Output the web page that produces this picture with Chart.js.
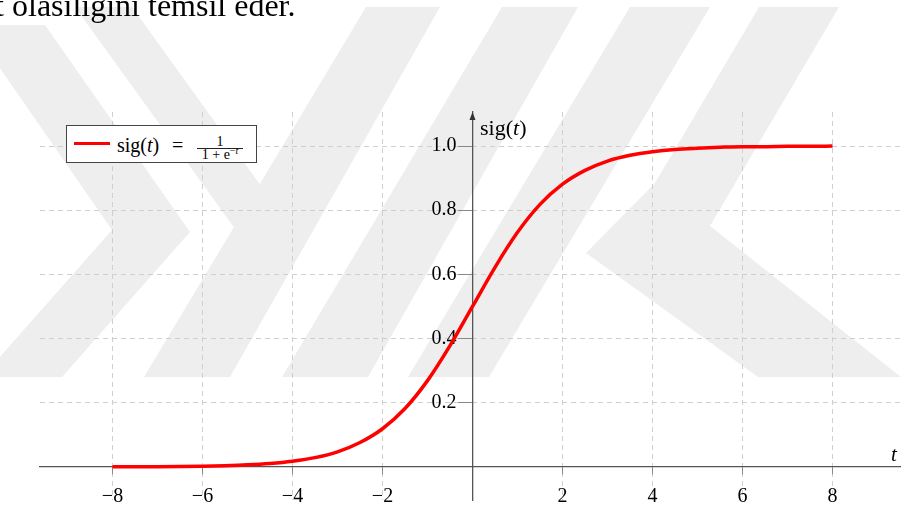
<!DOCTYPE html>
<html><head><meta charset="utf-8">
<script src="https://cdn.jsdelivr.net/npm/chart.js@4/dist/chart.umd.min.js"></script>
<style>
html,body{margin:0;padding:0;background:#fff;width:901px;height:508px;overflow:hidden;}
#wrap{position:relative;width:901px;height:508px;overflow:hidden;}
canvas{position:absolute;left:0;top:0;}
.txt{position:absolute;font-family:"Liberation Serif","Times New Roman",serif;color:#000;white-space:nowrap;line-height:1;}
#legend{position:absolute;left:66px;top:125px;width:189px;height:36px;border:1px solid #444;background:#fff;}
#legend .swatch{position:absolute;left:7px;top:15.5px;width:36px;height:3.5px;background:#ff0000;}
#legend .frac{position:absolute;left:128px;width:50px;text-align:center;font-family:"Liberation Serif",serif;line-height:1;font-size:14px;white-space:nowrap;}
#legend .bar{position:absolute;left:130px;top:22px;width:46px;height:1px;background:#222;}
sup{font-size:10px;vertical-align:5px;line-height:0;}
</style></head><body>
<div id="wrap">
<canvas id="c" width="930" height="530"></canvas>
<div class="txt" style="left:-28px;top:-11px;font-size:32px;">ait olasılığını temsil eder.</div>
<div id="legend">
  <div class="swatch"></div>
  <div class="txt" style="left:50px;top:9px;font-size:20px;">sig(<i>t</i>)</div>
  <div class="txt" style="left:105px;top:9px;font-size:20px;">=</div>
  <div class="frac" style="top:9px;">1</div>
  <div class="bar"></div>
  <div class="frac" style="top:22px;">1 + e<sup>−<i>t</i></sup></div>
</div>
<div class="txt" style="left:480px;top:117px;font-size:22px;">sig(<i>t</i>)</div>
<div class="txt" style="left:891px;top:444px;font-size:21px;"><i>t</i></div>
</div>
<script>
// ---- data ----
const tValues = [-8,-7.5,-7,-6.5,-6,-5.5,-5,-4.5,-4,-3.5,-3,-2.5,-2,-1.5,-1,-0.5,0,0.5,1,1.5,2,2.5,3,3.5,4,4.5,5,5.5,6,6.5,7,7.5,8];
const sigValues = [0.0003,0.0006,0.0009,0.0015,0.0025,0.0041,0.0067,0.011,0.018,0.029,0.047,0.076,0.119,0.182,0.269,0.378,0.5,0.622,0.731,0.818,0.881,0.924,0.953,0.971,0.982,0.989,0.993,0.996,0.998,0.998,0.999,0.999,1.0];
const xTickValues = [-8,-6,-4,-2,2,4,6,8];
const xTickLabels = ['−8','−6','−4','−2','2','4','6','8'];
const yTickValues = [0.2,0.4,0.6,0.8,1.0];
const yTickLabels = ['0.2','0.4','0.6','0.8','1.0'];

// decorative background watermark (page decoration, not data)
const watermarkShapes = [
  [[-30,25],[45,25],[190,232],[62,377],[-18,377],[112,230]],
  [[75,7],[132,7],[300,240],[243,240]],
  [[366,7],[440,7],[230,377],[144,377]],
  [[502,7],[578,7],[368,377],[282,377]],
  [[630,7],[710,7],[489,377],[408,377]],
  [[759,7],[839,7],[710,226],[901,377],[758,377],[586,253],[655,183]]
];

const watermark = {
  id:'watermark',
  beforeDraw(chart){
    const ctx = chart.ctx;
    ctx.save();
    ctx.fillStyle = '#eeeeee';
    watermarkShapes.forEach(poly=>{
      ctx.beginPath();
      poly.forEach((p,i)=> i?ctx.lineTo(p[0],p[1]):ctx.moveTo(p[0],p[1]));
      ctx.closePath(); ctx.fill();
    });
    ctx.restore();
    // keep the y tick labels clear of the centred axis line
    const items = chart.scales.y.getLabelItems(chart.chartArea);
    if (!items._shifted) { items.forEach(it=>{ it.options.translation[0] -= 16; }); items._shifted = true; }
  }
};

const arrows = {
  id:'arrows',
  afterDraw(chart){
    const ctx = chart.ctx, xs = chart.scales.x, a = chart.chartArea;
    const x0 = xs.getPixelForValue(0);
    ctx.save();
    ctx.fillStyle = '#333';
    ctx.beginPath();
    ctx.moveTo(x0, a.top);
    ctx.lineTo(x0-3, a.top+8);
    ctx.lineTo(x0+3, a.top+8);
    ctx.closePath(); ctx.fill();
    ctx.restore();
  }
};

const font = {family:'"Liberation Serif", serif', size:20};
new Chart(document.getElementById('c'), {
  type:'line',
  data:{datasets:[{
    label:'sig(t)',
    data: tValues.map((t,i)=>({x:t, y:sigValues[i]})),
    borderColor:'#ff0000', borderWidth:3.5, pointRadius:0,
    cubicInterpolationMode:'monotone', fill:false, clip:false
  }]},
  options:{
    responsive:false, animation:false, devicePixelRatio:1,
    layout:{padding:{left:40, right:10, top:112, bottom:30}},
    plugins:{legend:{display:false}, tooltip:{enabled:false}},
    scales:{
      x:{
        type:'linear', position:{y:0}, min:-9.611, max:9.944,
        afterBuildTicks:s=>{s.ticks = xTickValues.map(v=>({value:v}));},
        ticks:{callback:(v,i)=>xTickLabels[i], font, color:'#000', padding:11, maxRotation:0, autoSkip:false},
        grid:{color:'#cfcfcf', lineWidth:1, tickLength:7, tickColor:'#888', tickWidth:1},
        border:{color:'#555', width:1.3, dash:[5,4]}
      },
      y:{
        type:'linear', position:{x:0}, min:-0.103, max:1.106,
        afterBuildTicks:s=>{s.ticks = yTickValues.map(v=>({value:v}));},
        ticks:{callback:(v,i)=>yTickLabels[i], font, color:'#000', padding:2, autoSkip:false},
        grid:{color:'#cfcfcf', lineWidth:1, tickLength:14, tickColor:'#888', tickWidth:1},
        border:{color:'#555', width:1.3, dash:[5,4]}
      }
    }
  },
  plugins:[watermark, arrows]
});
</script>
</body></html>
